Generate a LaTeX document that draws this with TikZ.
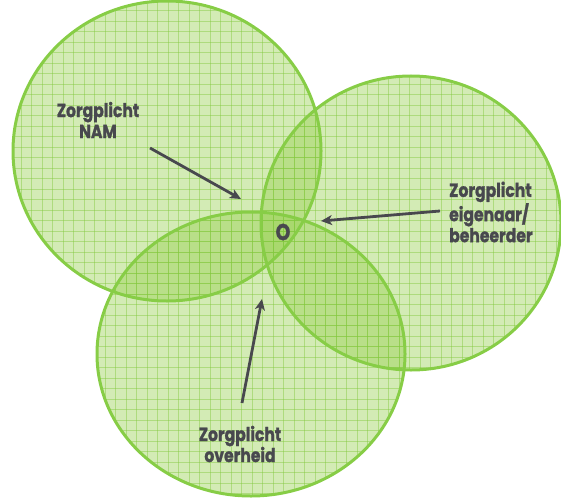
\documentclass[tikz,border=0pt]{standalone}
\usepackage{fontspec}
\setmainfont{Poppins}[FakeStretch=0.82,BoldFeatures={FakeBold=1.2}]
\usetikzlibrary{arrows.meta}
\definecolor{cbase}{RGB}{145,205,70}
\definecolor{cgrid}{RGB}{130,200,60}
\definecolor{cedge}{RGB}{135,205,70}
\definecolor{ink}{RGB}{72,72,78}
\tikzset{
  circfill/.style={fill=cbase,fill opacity=0.4,draw=none},
  gridline/.style={draw=cgrid,draw opacity=0.45,line width=0.9pt},
  circedge/.style={draw=cedge,line width=3pt},
  lbl/.style={text=ink,font=\fontsize{19}{21}\selectfont\bfseries,inner sep=0pt},
  pointer/.style={draw=ink,line width=2.8pt,-{Stealth[length=11pt,width=10pt,inset=3pt]}}
}
\begin{document}
\begin{tikzpicture}[x=1pt,y=-1pt]
\useasboundingbox (0,0) rectangle (561,500);
% fills
\fill[circfill] (167,151) ellipse [x radius=154,y radius=150];
\fill[circfill] (411,223) ellipse [x radius=150,y radius=147];
\fill[circfill] (251,354) ellipse [x radius=154,y radius=142];
% grids
\begin{scope}
\clip (167,151) ellipse [x radius=154,y radius=150];
\foreach \i in {0,...,53} {\draw[gridline] (\i*10.5,0) -- (\i*10.5,500);}
\foreach \j in {0,...,48} {\draw[gridline] (0,\j*10.5) -- (561,\j*10.5);}
\end{scope}
\begin{scope}
\clip (411,223) ellipse [x radius=150,y radius=147];
\foreach \i in {0,...,53} {\draw[gridline] (\i*10.5,0) -- (\i*10.5,500);}
\foreach \j in {0,...,48} {\draw[gridline] (0,\j*10.5) -- (561,\j*10.5);}
\end{scope}
\begin{scope}
\clip (251,354) ellipse [x radius=154,y radius=142];
\foreach \i in {0,...,53} {\draw[gridline] (\i*10.5,0) -- (\i*10.5,500);}
\foreach \j in {0,...,48} {\draw[gridline] (0,\j*10.5) -- (561,\j*10.5);}
\end{scope}
% edges
\draw[circedge] (167,151) ellipse [x radius=154,y radius=150];
\draw[circedge] (411,223) ellipse [x radius=150,y radius=147];
\draw[circedge] (251,354) ellipse [x radius=154,y radius=142];
% labels
\node[lbl,align=center] (nam) at (98,120) {Zorgplicht\\NAM};
\node[lbl,align=left,anchor=west] (eig) at (449,212) {Zorgplicht\\eigenaar/\\beheerder};
\node[lbl,align=center] (ovh) at (240,444) {Zorgplicht\\overheid};
\node[lbl,font=\fontsize{23}{24}\selectfont\bfseries] (o) at (283,232) {O};
% arrows
\coordinate (a1s) at (150,148); \coordinate (a1e) at (241,199);
\coordinate (a2s) at (440,211); \coordinate (a2e) at (321,221);
\coordinate (a3s) at (242,403); \coordinate (a3e) at (262,299);
\draw[pointer] (a1s) -- (a1e);
\draw[pointer] (a2s) -- (a2e);
\draw[pointer] (a3s) -- (a3e);
\end{tikzpicture}
\end{document}
